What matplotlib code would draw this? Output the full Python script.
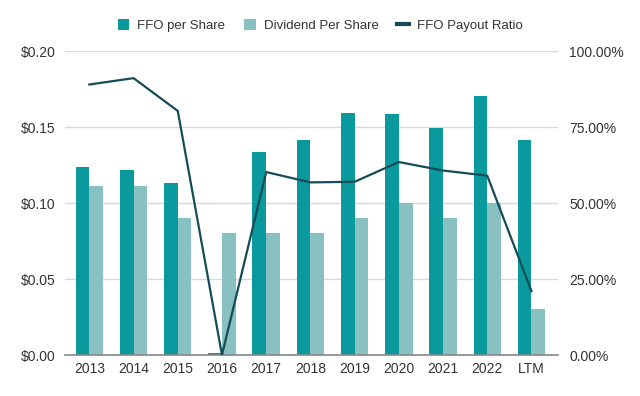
import matplotlib
matplotlib.use("Agg")
import matplotlib.pyplot as plt
import numpy as np
from matplotlib.ticker import FuncFormatter
from matplotlib.lines import Line2D
from matplotlib.patches import Patch

plt.rcParams['font.family'] = ['Liberation Sans', 'DejaVu Sans']

years = ['2013', '2014', '2015', '2016', '2017', '2018', '2019', '2020', '2021', '2022', 'LTM']
ffo = [0.124, 0.1215, 0.1135, 0.001, 0.1335, 0.1417, 0.1591, 0.1585, 0.1496, 0.1702, 0.1417]
dividend = [0.111, 0.111, 0.090, 0.080, 0.080, 0.080, 0.090, 0.100, 0.090, 0.100, 0.030]
payout = [89.0, 91.1, 80.3, 0.0, 60.2, 56.8, 57.0, 63.5, 60.7, 59.0, 21.0]

c_ffo = '#0a9a9d'
c_div = '#89c0c1'
c_line = '#154c57'
txt = '#333333'

fig = plt.figure(figsize=(6.4, 3.96), dpi=100)
ax = fig.add_axes([0.1016, 0.1035, 0.7703, 0.7675])
x = np.arange(len(years))
w = 0.31

ax.bar(x - w / 2, ffo, w, color=c_ffo, zorder=3)
ax.bar(x + w / 2, dividend, w, color=c_div, zorder=3)

ax.set_ylim(0, 0.2)
ax.set_yticks([0, 0.05, 0.10, 0.15, 0.20])
ax.yaxis.set_major_formatter(FuncFormatter(lambda v, p: '$%.2f' % v))
ax.set_xlim(-0.55, 10.6)
ax.set_xticks(x)
ax.set_xticklabels(years)
ax.grid(axis='y', color='#d9d9d9', linewidth=1, zorder=0)
for s in ['top', 'right', 'left']:
    ax.spines[s].set_visible(False)
ax.spines['bottom'].set_color('#888888')
ax.spines['bottom'].set_linewidth(1.2)
ax.spines['bottom'].set_zorder(4)
ax.tick_params(axis='both', length=0, labelsize=10, colors=txt)
ax.tick_params(axis='y', pad=7)
ax.tick_params(axis='x', pad=5)

ax2 = ax.twinx()
ax2.plot(x, payout, color=c_line, linewidth=1.6, zorder=5)
ax2.set_ylim(0, 100)
ax2.set_yticks([0, 25, 50, 75, 100])
ax2.yaxis.set_major_formatter(FuncFormatter(lambda v, p: '%.2f%%' % v))
for s in ['top', 'right', 'left', 'bottom']:
    ax2.spines[s].set_visible(False)
ax2.tick_params(axis='y', length=0, labelsize=10, colors=txt, pad=8)

handles = [
    Patch(facecolor=c_ffo, label='FFO per Share'),
    Patch(facecolor=c_div, label='Dividend Per Share'),
    Line2D([0], [0], color=c_line, linewidth=3, label='FFO Payout Ratio'),
]
fig.legend(handles=handles, loc='center', bbox_to_anchor=(0.5, 0.935), ncol=3,
           frameon=False, fontsize=9.5, handlelength=0.9, handleheight=0.9,
           handletextpad=0.6, columnspacing=1.4, labelcolor=txt)

fig.savefig('out.png', dpi=100)
